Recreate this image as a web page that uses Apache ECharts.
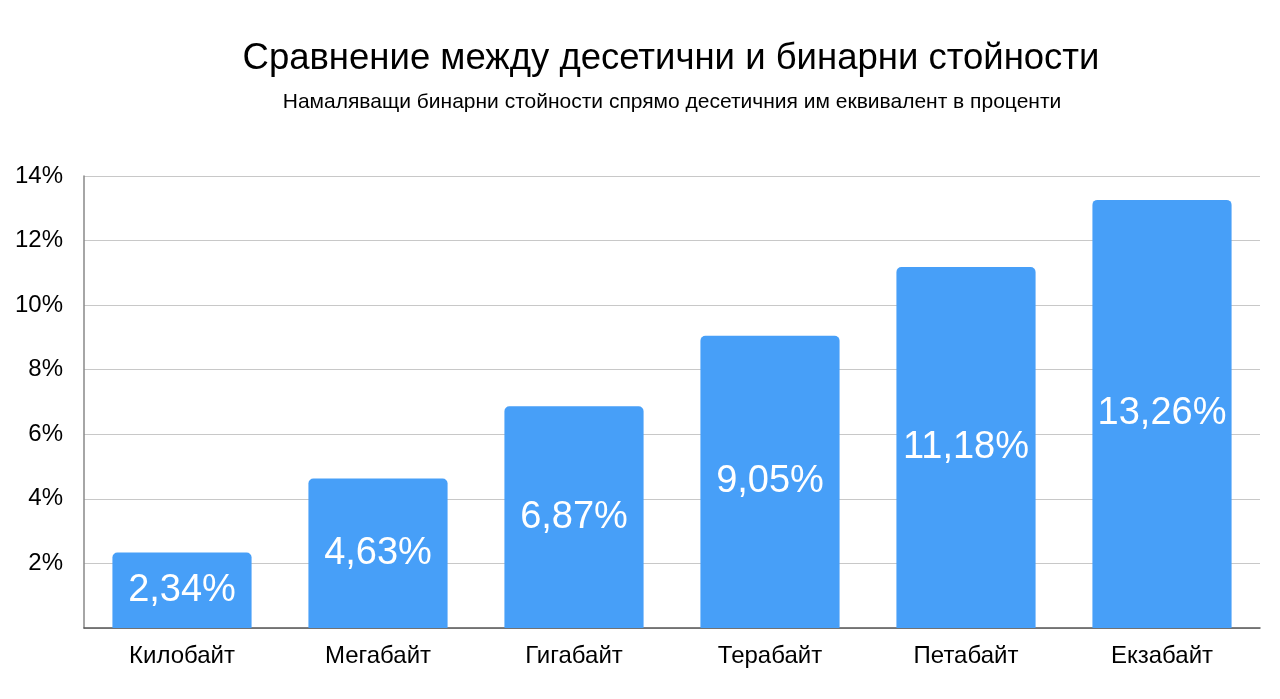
<!DOCTYPE html>
<html><head><meta charset="utf-8">
<script src="https://cdn.jsdelivr.net/npm/echarts@6/dist/echarts.min.js"></script>
<style>html,body{margin:0;padding:0;background:#fff}#c{width:1280px;height:699px}</style>
</head><body><div id="c"></div>
<script>
const categories = ['Килобайт','Мегабайт','Гигабайт','Терабайт','Петабайт','Екзабайт'];
const values = [2.34, 4.63, 6.87, 9.05, 11.18, 13.26];
const yTicks = [0, 2, 4, 6, 8, 10, 12, 14];
const titleText = 'Сравнение между десетични и бинарни стойности';
const subtitleText = 'Намаляващи бинарни стойности спрямо десетичния им еквивалент в проценти';
const font = '"Liberation Sans", Arial, Helvetica, sans-serif';
const chart = echarts.init(document.getElementById('c'));
chart.setOption({
  animation: false,
  title: [
    {text: titleText, left: 666, textAlign: 'center', top: 35, textStyle: {fontFamily: font, fontSize: 36.5, fontWeight: 'normal', color: '#000'}},
    {text: subtitleText, left: 667, textAlign: 'center', top: 87, textStyle: {fontFamily: font, fontSize: 21, fontWeight: 'normal', color: '#000'}}
  ],
  grid: {left: 84, right: 20, top: 176, bottom: 71, containLabel: false},
  xAxis: {
    type: 'category', data: categories,
    axisLine: {lineStyle: {color: '#555', width: 1.5}},
    axisTick: {show: false},
    axisLabel: {fontFamily: font, fontSize: 24, color: '#000', margin: 16}
  },
  yAxis: {
    type: 'value', min: 0, max: 14, interval: 2,
    axisLine: {show: true, lineStyle: {color: '#888', width: 1.5}},
    axisTick: {show: false},
    splitLine: {lineStyle: {color: '#c8c8c8', width: 1}},
    axisLabel: {fontFamily: font, fontSize: 24, color: '#000', margin: 21,
      formatter: v => (v === 0 ? '' : v + '%')}
  },
  series: [{
    type: 'bar', data: values, barWidth: '71%',
    itemStyle: {color: '#479ff8', borderRadius: [5,5,0,0]},
    label: {show: true, position: 'inside', fontFamily: font, fontSize: 38, color: '#fff',
      formatter: p => p.value.toFixed(2).replace('.', ',') + '%'}
  }]
});
</script></body></html>
